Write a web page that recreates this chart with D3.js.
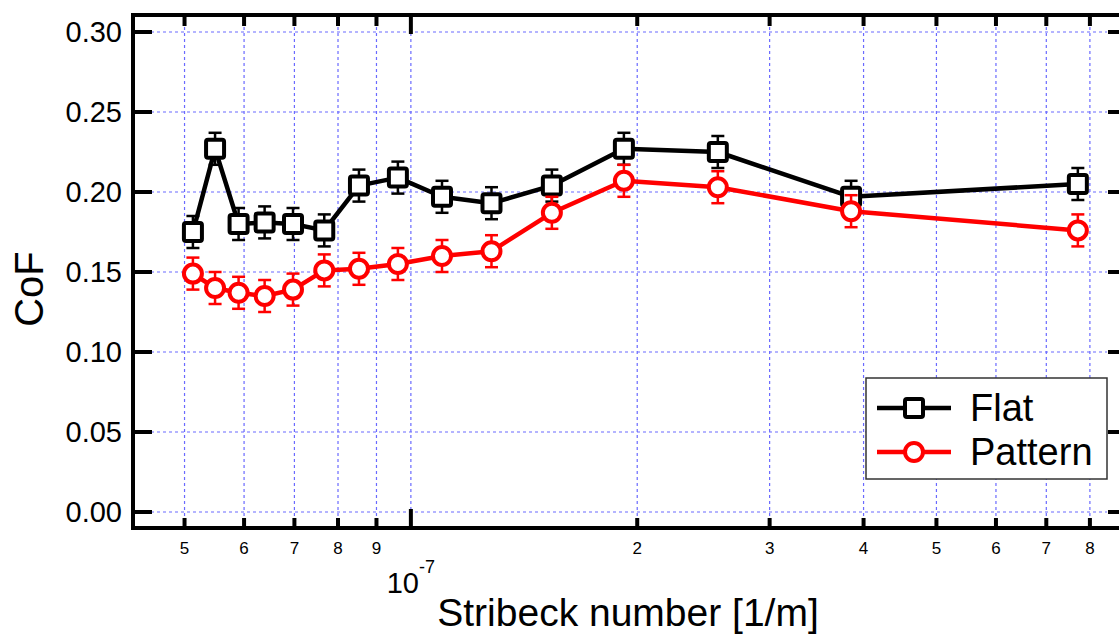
<!DOCTYPE html>
<html>
<head>
<meta charset="utf-8">
<script src="https://cdn.jsdelivr.net/npm/d3@7/dist/d3.min.js"></script>
<style>
  body { margin: 0; background: #fff; }
  text { font-family: "Liberation Sans", Arial, sans-serif; fill: #000; }
</style>
</head>
<body>
<div id="chart"></div>
<script>
// stribeck numbers [1/m]
var stribeck = [5.13e-8, 5.49e-8, 5.90e-8, 6.39e-8, 6.97e-8, 7.67e-8, 8.53e-8, 9.61e-8,
                1.10e-7, 1.28e-7, 1.54e-7, 1.92e-7, 2.56e-7, 3.85e-7, 7.71e-7];
var flat = [0.175, 0.227, 0.180, 0.181, 0.180, 0.176, 0.204, 0.209,
            0.197, 0.193, 0.204, 0.227, 0.225, 0.197, 0.205];
var flatErr = [0.01, 0.01, 0.01, 0.01, 0.01, 0.01, 0.01, 0.01,
               0.01, 0.01, 0.01, 0.01, 0.01, 0.01, 0.01];
var pattern = [0.149, 0.140, 0.137, 0.135, 0.139, 0.151, 0.152, 0.155,
               0.160, 0.163, 0.187, 0.207, 0.203, 0.188, 0.176];
var patternErr = [0.01, 0.01, 0.01, 0.01, 0.01, 0.01, 0.01, 0.01,
                  0.01, 0.01, 0.01, 0.01, 0.01, 0.01, 0.01];
var yTicks = [0, 0.05, 0.10, 0.15, 0.20, 0.25, 0.30];
var xMinorTicks = [5e-8, 6e-8, 7e-8, 8e-8, 9e-8, 2e-7, 3e-7, 4e-7, 5e-7, 6e-7, 7e-7, 8e-7];
var xMajorTicks = [1e-7];
var seriesNames = ["Flat", "Pattern"];

var width = 1119, height = 636;
var plot = {left: 133, right: 1107, top: 15, bottom: 528};

var svg = d3.select("#chart").append("svg")
    .attr("width", width)
    .attr("height", height);

var x = d3.scaleLog().domain([4.27e-8, 8.43e-7]).range([plot.left, plot.right]);
var y = d3.scaleLinear().domain([-0.01, 0.310625]).range([plot.bottom, plot.top]);

// grid
var grid = svg.append("g")
    .attr("stroke", "#6a6aff")
    .attr("stroke-width", 1.2)
    .attr("stroke-dasharray", "3,3");
grid.selectAll(".gy").data(yTicks).enter().append("line")
    .attr("x1", plot.left).attr("x2", plot.right)
    .attr("y1", d => y(d)).attr("y2", d => y(d));
grid.selectAll(".gx").data(xMinorTicks.concat(xMajorTicks)).enter().append("line")
    .attr("x1", d => x(d)).attr("x2", d => x(d))
    .attr("y1", plot.top).attr("y2", plot.bottom);

// axes frame
var ax = svg.append("g").attr("stroke", "#000").attr("stroke-width", 4);
ax.append("line").attr("x1", plot.left).attr("x2", plot.left).attr("y1", plot.top - 2).attr("y2", plot.bottom + 2);
ax.append("line").attr("x1", plot.left - 2).attr("x2", width).attr("y1", plot.bottom).attr("y2", plot.bottom);
ax.append("line").attr("x1", plot.left - 2).attr("x2", width).attr("y1", plot.top).attr("y2", plot.top);

// y ticks left and right
ax.selectAll(".yl").data(yTicks).enter().append("line")
    .attr("x1", plot.left).attr("x2", plot.left + 19)
    .attr("y1", d => y(d)).attr("y2", d => y(d));
ax.selectAll(".yr").data(yTicks).enter().append("line")
    .attr("x1", plot.right + 1).attr("x2", width + 10)
    .attr("y1", d => y(d)).attr("y2", d => y(d));

// x ticks bottom and top
ax.selectAll(".xb").data(xMinorTicks).enter().append("line")
    .attr("x1", d => x(d)).attr("x2", d => x(d))
    .attr("y1", plot.bottom).attr("y2", plot.bottom - 10);
ax.selectAll(".xbM").data(xMajorTicks).enter().append("line")
    .attr("x1", d => x(d)).attr("x2", d => x(d))
    .attr("y1", plot.bottom).attr("y2", plot.bottom - 19);
ax.selectAll(".xt").data(xMinorTicks).enter().append("line")
    .attr("x1", d => x(d)).attr("x2", d => x(d))
    .attr("y1", plot.top).attr("y2", plot.top + 11);
ax.selectAll(".xtM").data(xMajorTicks).enter().append("line")
    .attr("x1", d => x(d)).attr("x2", d => x(d))
    .attr("y1", plot.top).attr("y2", plot.top + 19);

// tick labels
svg.selectAll(".ylab").data(yTicks).enter().append("text")
    .attr("x", 122).attr("y", d => y(d) + 10)
    .attr("text-anchor", "end")
    .style("font-size", "29px")
    .text(d => d3.format(".2f")(d));

svg.selectAll(".xlab").data(xMinorTicks).enter().append("text")
    .attr("x", d => x(d)).attr("y", 554)
    .attr("text-anchor", "middle")
    .style("font-size", "17px")
    .text(d => Math.round(d / Math.pow(10, Math.floor(Math.log10(d) + 1e-9))));

var major = svg.selectAll(".xmaj").data(xMajorTicks).enter().append("text")
    .attr("x", d => x(d)).attr("y", 593)
    .attr("text-anchor", "middle");
major.append("tspan").style("font-size", "29px").text("10");
major.append("tspan").style("font-size", "18px").attr("dy", -20).text(d => Math.round(Math.log10(d)));

// axis titles
svg.append("text")
    .attr("x", 628).attr("y", 626)
    .attr("text-anchor", "middle")
    .style("font-size", "39px")
    .text("Stribeck number [1/m]");
svg.append("text")
    .attr("transform", "translate(43,289) rotate(-90)")
    .attr("text-anchor", "middle")
    .style("font-size", "40px")
    .text("CoF");

// series
var series = [
  {name: seriesNames[0], values: flat, err: flatErr, color: "#000", shape: "square"},
  {name: seriesNames[1], values: pattern, err: patternErr, color: "#ff0000", shape: "circle"}
];

var line = d3.line()
    .x(function(d) { return x(d.x); })
    .y(function(d) { return y(d.y); });

function drawMarker(g, shape, color) {
  if (shape === "square") {
    g.append("rect")
      .attr("x", -9).attr("y", -9).attr("width", 18).attr("height", 18)
      .attr("rx", 2)
      .attr("fill", "#fff").attr("stroke", color).attr("stroke-width", 4);
  } else {
    g.append("circle")
      .attr("r", 9)
      .attr("fill", "#fff").attr("stroke", color).attr("stroke-width", 4);
  }
}

series.forEach(function(s) {
  var pts = stribeck.map(function(v, i) { return {x: v, y: s.values[i], e: s.err[i]}; });
  var g = svg.append("g");

  g.append("path")
    .datum(pts)
    .attr("fill", "none")
    .attr("stroke", s.color)
    .attr("stroke-width", 4.5)
    .attr("stroke-linejoin", "round")
    .attr("d", line);

  var eb = g.selectAll(".eb").data(pts).enter().append("g")
    .attr("stroke", s.color).attr("stroke-width", 2.5);
  eb.append("line")
    .attr("x1", d => x(d.x)).attr("x2", d => x(d.x))
    .attr("y1", d => y(d.y - d.e)).attr("y2", d => y(d.y + d.e));
  eb.append("line")
    .attr("x1", d => x(d.x) - 6.5).attr("x2", d => x(d.x) + 6.5)
    .attr("y1", d => y(d.y + d.e)).attr("y2", d => y(d.y + d.e));
  eb.append("line")
    .attr("x1", d => x(d.x) - 6.5).attr("x2", d => x(d.x) + 6.5)
    .attr("y1", d => y(d.y - d.e)).attr("y2", d => y(d.y - d.e));

  g.selectAll(".mk").data(pts).enter().append("g")
    .attr("transform", d => "translate(" + x(d.x) + "," + y(d.y) + ")")
    .each(function() { drawMarker(d3.select(this), s.shape, s.color); });
});

// legend
var legend = svg.append("g");
legend.append("rect")
  .attr("x", 866).attr("y", 378).attr("width", 241).attr("height", 101)
  .attr("fill", "#fff").attr("stroke", "#333").attr("stroke-width", 1.5);
series.forEach(function(s, i) {
  var ly = 408 + i * 44;
  legend.append("line")
    .attr("x1", 877).attr("x2", 951).attr("y1", ly).attr("y2", ly)
    .attr("stroke", s.color).attr("stroke-width", 4.5);
  var m = legend.append("g").attr("transform", "translate(914," + ly + ")");
  drawMarker(m, s.shape, s.color);
  legend.append("text")
    .attr("x", 970).attr("y", ly + 13)
    .style("font-size", "38px")
    .text(s.name);
});
</script>
</body>
</html>
